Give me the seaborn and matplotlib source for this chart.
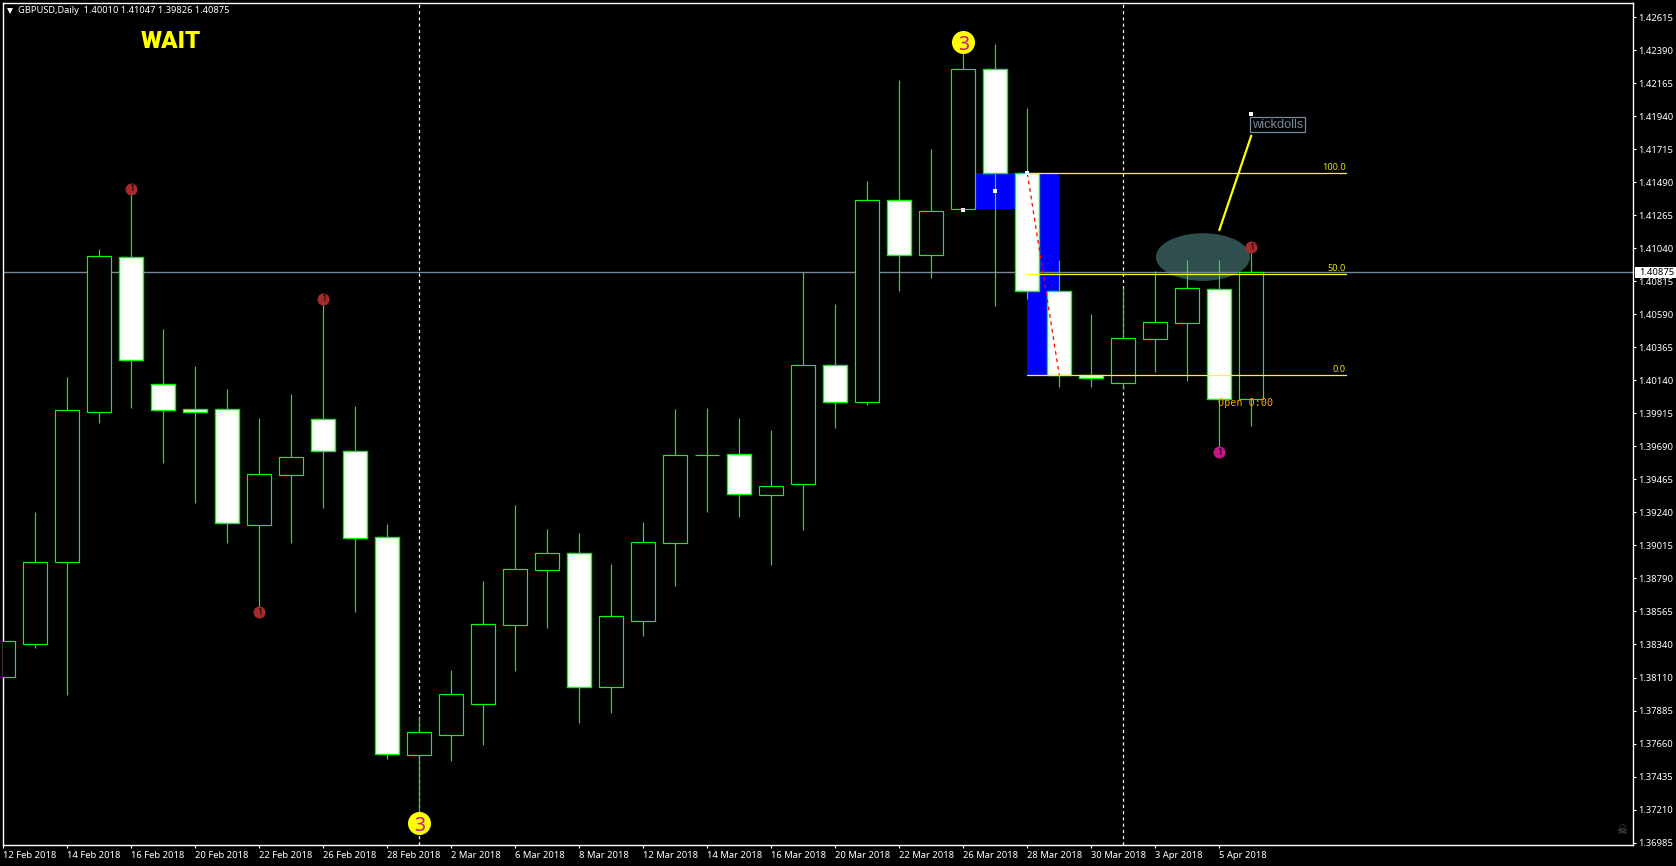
import numpy as np
import pandas as pd
import matplotlib
matplotlib.use("Agg")
import matplotlib.pyplot as plt
from matplotlib.patches import Ellipse, Rectangle
import seaborn as sns

# ---------- data ----------
opens = [1.38112, 1.38342, 1.38898, 1.39921, 1.40978, 1.40117, 1.39942, 1.39942, 1.39154, 1.39496,
         1.39872, 1.39660, 1.39068, 1.37585, 1.37722, 1.37933, 1.38472, 1.38847, 1.38959, 1.38049,
         1.38499, 1.39031, 1.39632, 1.39634, 1.39359, 1.39434, 1.40242, 1.39994, 1.41367, 1.40996,
         1.41310, 1.42261, 1.41551, 1.40746, 1.40173, 1.40123, 1.40423, 1.40532, 1.40760, 1.40010]
highs = [1.38757, 1.39240, 1.40161, 1.41036, 1.41446, 1.40490, 1.40237, 1.40081, 1.39882, 1.40046,
         1.40697, 1.39963, 1.39159, 1.37849, 1.38163, 1.38770, 1.39289, 1.39125, 1.39098, 1.38886,
         1.39173, 1.39943, 1.39950, 1.39882, 1.39800, 1.40877, 1.40659, 1.41499, 1.42188, 1.41716,
         1.42372, 1.42433, 1.41997, 1.40960, 1.40591, 1.40769, 1.40885, 1.40960, 1.40960, 1.41047]
lows = [1.37947, 1.38316, 1.37990, 1.39851, 1.39952, 1.39576, 1.39305, 1.39031, 1.38556, 1.39031,
        1.39271, 1.38561, 1.37559, 1.37119, 1.37544, 1.37654, 1.38158, 1.38452, 1.37804, 1.37872,
        1.38397, 1.38738, 1.39243, 1.39209, 1.38881, 1.39118, 1.39817, 1.39972, 1.40745, 1.40838,
        1.41301, 1.40649, 1.40697, 1.40096, 1.40096, 1.40082, 1.40196, 1.40134, 1.39650, 1.39826]
closes = [1.38360, 1.38900, 1.39934, 1.40984, 1.40276, 1.39939, 1.39926, 1.39164, 1.39498, 1.39613,
          1.39660, 1.39065, 1.37587, 1.37738, 1.37997, 1.38475, 1.38850, 1.38959, 1.38049, 1.38529,
          1.39034, 1.39628, 1.39632, 1.39366, 1.39416, 1.40242, 1.39994, 1.41367, 1.40996, 1.41297,
          1.42261, 1.41555, 1.40750, 1.40173, 1.40157, 1.40426, 1.40535, 1.40767, 1.40010, 1.40875]

x_labels = ["12 Feb 2018", "14 Feb 2018", "16 Feb 2018", "20 Feb 2018", "22 Feb 2018",
            "26 Feb 2018", "28 Feb 2018", "2 Mar 2018", "6 Mar 2018", "8 Mar 2018",
            "12 Mar 2018", "14 Mar 2018", "16 Mar 2018", "20 Mar 2018", "22 Mar 2018",
            "26 Mar 2018", "28 Mar 2018", "30 Mar 2018", "3 Apr 2018", "5 Apr 2018"]
y_labels = ["1.42615", "1.42390", "1.42165", "1.41940", "1.41715", "1.41490", "1.41265",
            "1.41040", "1.40815", "1.40590", "1.40365", "1.40140", "1.39915", "1.39690",
            "1.39465", "1.39240", "1.39015", "1.38790", "1.38565", "1.38340", "1.38110",
            "1.37885", "1.37660", "1.37435", "1.37210", "1.36985"]

current_price = 1.40875
fib_levels = [1.41551, 1.40862, 1.40173]
fib_names = ["100.0", "50.0", "0.0"]
brown_bars = [4, 10, 8, 39]
brown_prices = [1.41446, 1.40697, 1.38556, 1.41047]
magenta_bars = [38]
magenta_prices = [1.39650]
yellow_bars = [13, 30]
yellow_prices = [1.37117, 1.42445]
vline_bars = [13, 35]
dot_bars = [30, 31, 32, 39]
dot_prices = [1.41301, 1.41428, 1.41555, 1.41954]

# ---------- style ----------
GREEN = "#00FF00"
SLATE = "#778899"
FONT = "Noto Sans"
sns.set_theme(style="dark", rc={"axes.facecolor": "black", "figure.facecolor": "black",
                                "axes.grid": False})
plt.rcParams["font.family"] = [FONT, "DejaVu Sans"]

W, H = 1676, 866
fig = plt.figure(figsize=(W / 100, H / 100), dpi=100, facecolor="black")
ax = fig.add_axes([2.5 / W, 1 - 845.3 / H, (1633 - 2.5) / W, (845.3 - 2.5) / H], facecolor="black")

df = pd.DataFrame({"bar": np.arange(len(opens)), "o": opens, "h": highs, "l": lows, "c": closes})
df["bottom"] = df[["o", "c"]].min(axis=1)
df["height"] = (df["c"] - df["o"]).abs()
bull = df[df["c"] >= df["o"]]
bear = df[df["c"] < df["o"]]

# background decorations
ax.add_patch(Rectangle((30, fib_levels[0]), 2, 1.41310 - fib_levels[0], color="#0000FF", lw=0, zorder=1))
ax.add_patch(Rectangle((32, fib_levels[2]), 1, fib_levels[0] - fib_levels[2], color="#0000FF", lw=0, zorder=1))
ax.add_patch(Ellipse((37.49, 1.40980), 2.94, 0.00325, color="#2F4F4F", lw=0, zorder=1))
ax.axhline(current_price, color=SLATE, lw=1.0, zorder=1.5)
for b in vline_bars:
    ax.axvline(b, color="white", lw=0.9, ls=(0, (2.5, 2.5)), zorder=1.5)

# candles
ax.vlines(df["bar"], df["l"], df["h"], color=GREEN, lw=0.85, zorder=2)
sns.barplot(data=bull, x="bar", y="height", bottom=bull["bottom"].to_numpy(), native_scale=True,
            width=0.76, color="black", saturation=1, errorbar=None, edgecolor=GREEN,
            linewidth=0.85, zorder=3, ax=ax)
sns.barplot(data=bear, x="bar", y="height", bottom=bear["bottom"].to_numpy(), native_scale=True,
            width=0.76, color="white", saturation=1, errorbar=None, edgecolor=GREEN,
            linewidth=1.0, zorder=3, ax=ax)

# fibonacci lines and labels
for lvl, name in zip(fib_levels, fib_names):
    ax.plot([32, 41.95], [lvl, lvl], color="#FFFF00", lw=0.9, zorder=4)
    ax.text(41.95, lvl + 0.00012, name, color="#E6E60A", fontsize=6.6, ha="right", va="bottom", zorder=4)

# trend lines
ax.plot([32, 33], [fib_levels[0], fib_levels[2]], color="#FF0000", lw=0.9, ls=(0, (3, 3)), zorder=5)
ax.plot([39, 38], [1.41808, 1.41164], color="#FFFF00", lw=1.6, zorder=5)

# markers
sns.scatterplot(x=brown_bars, y=brown_prices, color="#A52A2A", s=75, linewidth=0, zorder=6, ax=ax)
sns.scatterplot(x=magenta_bars, y=magenta_prices, color="#C71585", s=75, linewidth=0, zorder=6, ax=ax)
sns.scatterplot(x=yellow_bars, y=yellow_prices, color="#FFFF00", s=275, linewidth=0, zorder=6, ax=ax)
sns.scatterplot(x=dot_bars, y=dot_prices, color="white", s=5, marker="s", linewidth=0, zorder=6, ax=ax)
for b, p in zip(brown_bars + magenta_bars, brown_prices + magenta_prices):
    ax.text(b, p, "1", color="black", fontsize=6.5, ha="center", va="center", zorder=7)
for b, p in zip(yellow_bars, yellow_prices):
    ax.text(b, p, "3", color="#C71585", fontsize=14, ha="center", va="center_baseline", zorder=7)

# text annotations
ax.text(39.02, 1.41882, "wickdolls", color=SLATE, fontsize=9.2, family="Liberation Sans",
        ha="left", va="center", zorder=7,
        bbox=dict(boxstyle="square,pad=0.12", fc="black", ec=SLATE, lw=0.9))
ax.text(37.95, 1.39986, "Open 0:00", color="#FFA500", fontsize=7.3, family="DejaVu Sans Mono",
        ha="left", va="center", zorder=7)

# axes
ax.set_xlim((2.5 - 3.3) / 32, (1633 - 3.3) / 32)
ax.set_ylim(1.36985 - 2.6 / 14660, 1.36985 + 840.2 / 14660)
ax.set_xlabel("")
ax.set_ylabel("")
ax.yaxis.tick_right()
ax.set_yticks([float(s) for s in y_labels])
ax.set_yticklabels(y_labels)
ax.set_xticks(np.arange(len(x_labels)) * 2)
ax.set_xticklabels(x_labels, ha="left")
ax.tick_params(axis="both", colors="white", length=2.2, width=0.8, labelsize=6.8, pad=1.8, bottom=True, right=True)
for sp in ax.spines.values():
    sp.set_color("white")
    sp.set_linewidth(1.0)
    sp.set_visible(True)

# current price tag on the right scale
ax.add_patch(Rectangle((1635 / W, 1 - 278 / H), 41 / W, 11 / H, transform=fig.transFigure,
                       fc="white", ec="none", clip_on=False, zorder=20))
ax.text(1639 / W, 1 - 272.5 / H, "1.40875", transform=fig.transFigure, color="black",
        fontsize=6.8, ha="left", va="center", clip_on=False, zorder=21)

# header, signal and terminal glyphs
ax.plot([9.5 / W], [1 - 10.5 / H], marker="v", ms=4.5, color="white", mew=0, transform=fig.transFigure,
        clip_on=False, zorder=20)
fig.text(18 / W, 1 - 10.5 / H, "GBPUSD,Daily  1.40010 1.41047 1.39826 1.40875", color="white",
         fontsize=6.7, ha="left", va="center")
fig.text(171 / W, 1 - 42 / H, "WAIT", color="#FFFF00", fontsize=17.5, fontweight="black",
         family="Roboto", ha="center", va="center")
fig.text(1622 / W, 1 - 831 / H, "\u2620", color="#5A5A5A", fontsize=9, family="DejaVu Sans",
         ha="center", va="center")

fig.savefig("out.png", dpi=100, facecolor="black")
